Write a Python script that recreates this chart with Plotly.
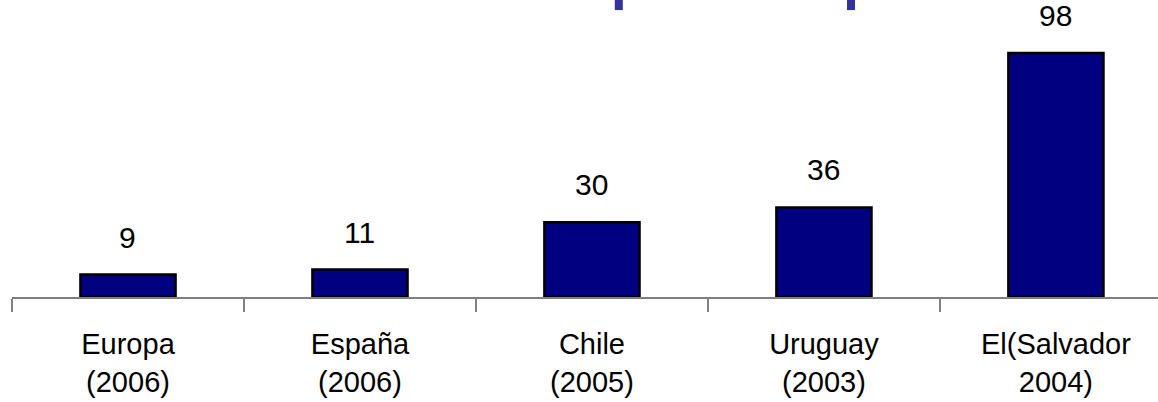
import plotly.graph_objects as go

categories = ["Europa<br>(2006)", "España<br>(2006)", "Chile<br>(2005)",
              "Uruguay<br>(2003)", "El(Salvador<br>2004)"]
values = [9, 11, 30, 36, 98]

fig = go.Figure()

fig.add_trace(go.Bar(
    x=categories,
    y=values,
    width=0.41,
    marker=dict(color="#000080", line=dict(color="black", width=2.5)),
    cliponaxis=False,
))

# value labels above the bars
for c, v in zip(categories, values):
    fig.add_annotation(
        x=c, y=v, text=str(v), showarrow=False,
        yanchor="bottom", yshift=19,
        font=dict(family="Liberation Sans, Arial", size=30, color="black"),
    )

# the two blue stubs cut off at the top of the picture
for x0, x1 in [(0.526, 0.533), (0.7286, 0.7356)]:
    fig.add_shape(
        type="rect", xref="paper", yref="paper",
        x0=x0, x1=x1, y0=0.966, y1=1.0,
        fillcolor="#333399", line=dict(width=0),
    )

fig.update_layout(
    width=1158, height=402,
    margin=dict(l=12, r=0, t=0, b=105),
    plot_bgcolor="white", paper_bgcolor="white",
    showlegend=False,
    font=dict(family="Liberation Sans, Arial", size=29, color="black"),
    xaxis=dict(
        range=[-0.5, 4.44],
        showline=True, linecolor="#808080", linewidth=2,
        ticks="outside", tickson="boundaries", ticklen=13,
        tickcolor="#808080", tickwidth=2,
        ticklabelstandoff=20,
        showgrid=False, zeroline=False,
        tickfont=dict(size=29),
    ),
    yaxis=dict(
        range=[0, 119.3], visible=False, showgrid=False, zeroline=False,
    ),
)

# drop the page's default body margin so the figure sits at the window corner
fig.write_html("out.html", config={"displayModeBar": False},
               post_script="document.body.style.margin='0';")
